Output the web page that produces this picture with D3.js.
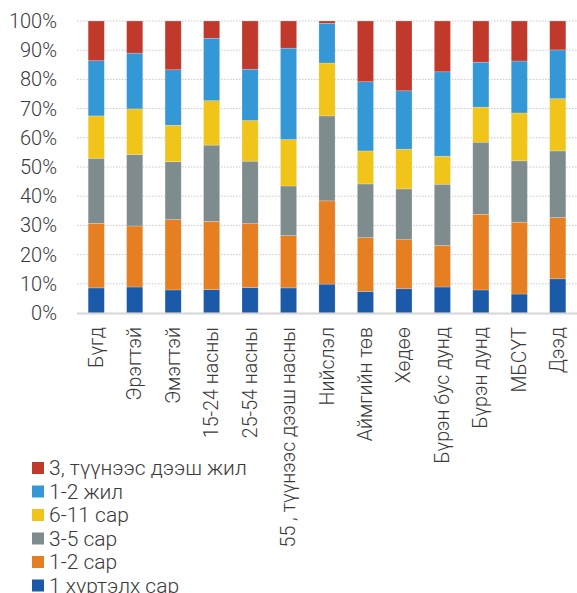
<!DOCTYPE html>
<html>
<head>
<meta charset="utf-8">
<script src="https://cdn.jsdelivr.net/npm/d3@7"></script>
<style>
  html, body { margin: 0; padding: 0; background: #fff; }
  svg text { font-family: Roboto, "Noto Sans", sans-serif; font-weight: 300; fill: #3a3a3a; }
</style>
</head>
<body>
<svg id="chart" width="577" height="593"></svg>
<script>
// Groups along the x axis
const categories = [
  "Бүгд", "Эрэгтэй", "Эмэгтэй", "15-24 насны", "25-54 насны",
  "55 , түүнээс дээш насны", "Нийслэл", "Аймгийн төв", "Хөдөө",
  "Бүрэн бус дунд", "Бүрэн дунд", "МБСҮТ", "Дээд"
];

// Series, stacked from the bottom up (percent of each group)
const seriesNames = ["1 хүртэлх сар", "1-2 сар", "3-5 сар", "6-11 сар", "1-2 жил", "3, түүнээс дээш жил"];
const seriesColors = ["#1a5aa8", "#e67e22", "#7f8c8d", "#f0c419", "#3498d6", "#c0392b"];

const upTo1Month  = [8.6, 8.9, 7.9, 8.0, 8.7, 8.6, 9.9, 7.4, 8.3, 8.9, 7.9, 6.5, 11.7];
const months1to2  = [22.1, 20.9, 24.1, 23.4, 21.9, 17.9, 28.5, 18.4, 16.8, 14.2, 25.9, 24.6, 21.0];
const months3to5  = [22.3, 24.5, 19.8, 26.1, 21.4, 17.0, 29.1, 18.4, 17.4, 21.0, 24.7, 21.0, 22.8];
const months6to11 = [14.5, 15.6, 12.5, 15.2, 13.9, 15.9, 18.1, 11.3, 13.6, 9.6, 12.0, 16.4, 17.9];
const years1to2   = [18.9, 19.1, 19.0, 21.4, 17.6, 31.3, 13.6, 23.7, 20.0, 28.9, 15.4, 17.8, 16.7];
const years3plus  = [13.6, 11.0, 16.7, 5.9, 16.5, 9.3, 0.8, 20.8, 23.9, 17.4, 14.1, 13.7, 9.9];

const yTicks = [0, 10, 20, 30, 40, 50, 60, 70, 80, 90, 100];

const seriesValues = [upTo1Month, months1to2, months3to5, months6to11, years1to2, years3plus];

// Rows for d3.stack, normalised so each column reaches 100%
const rows = categories.map((c, i) => {
  const row = { category: c };
  const total = d3.sum(seriesValues, s => s[i]);
  seriesNames.forEach((n, k) => { row[n] = seriesValues[k][i] / total * 100; });
  return row;
});

const svg = d3.select("#chart");
const margin = { top: 21, right: 0, left: 77 };
const width = 577;
const plotBottom = 313;

const x = d3.scaleBand()
  .domain(categories)
  .range([margin.left, width - margin.right])
  .paddingInner(0.58)
  .paddingOuter(0.29);

const y = d3.scaleLinear()
  .domain([0, 100])
  .range([plotBottom, margin.top]);

// Dotted horizontal gridlines
svg.append("g")
  .selectAll("line")
  .data(yTicks.filter(t => t > 0))
  .join("line")
  .attr("x1", margin.left)
  .attr("x2", width)
  .attr("y1", d => y(d))
  .attr("y2", d => y(d))
  .attr("stroke", "#c8c8c8")
  .attr("stroke-width", 1)
  .attr("stroke-dasharray", "1.5,1.5");

// Y axis labels
const yAxis = svg.append("g")
  .attr("transform", `translate(${margin.left},0)`)
  .call(d3.axisLeft(y).tickValues(yTicks).tickFormat(d => d + "%").tickSize(0).tickPadding(20));
yAxis.select(".domain").remove();
yAxis.selectAll("text").style("font-size", "20px").style("fill", "#3a3a3a");

// Stacked bars
const stack = d3.stack().keys(seriesNames);
const layers = stack(rows);

svg.append("g")
  .selectAll("g")
  .data(layers)
  .join("g")
  .attr("fill", (d, i) => seriesColors[i])
  .selectAll("rect")
  .data(d => d)
  .join("rect")
  .attr("x", d => x(d.data.category))
  .attr("width", x.bandwidth())
  .attr("y", d => y(d[1]))
  .attr("height", d => y(d[0]) - y(d[1]))
  .attr("stroke", "rgba(255,255,255,0.35)")
  .attr("stroke-width", 0.6);

// Baseline
svg.append("line")
  .attr("x1", margin.left)
  .attr("x2", width)
  .attr("y1", plotBottom + 0.5)
  .attr("y2", plotBottom + 0.5)
  .attr("stroke", "#d6d6d6")
  .attr("stroke-width", 2);

// X axis labels, rotated
const xAxis = svg.append("g")
  .attr("transform", `translate(0,${plotBottom})`)
  .call(d3.axisBottom(x).tickSize(0).tickPadding(0));
xAxis.select(".domain").remove();
xAxis.selectAll("text")
  .style("font-size", "19.6px")
  .style("fill", "#3a3a3a")
  .attr("text-anchor", "end")
  .attr("dy", null)
  .attr("dominant-baseline", "central")
  .attr("transform", "translate(0,14) rotate(-90)")
  .attr("x", 0)
  .attr("y", 0);

// Legend, top entry is the last series
const legendItems = seriesNames.map((n, i) => ({ name: n, color: seriesColors[i] })).reverse();
const legend = svg.append("g")
  .selectAll("g")
  .data(legendItems)
  .join("g")
  .attr("transform", (d, i) => `translate(32,${468 + i * 23.5})`);

legend.append("rect")
  .attr("x", 0)
  .attr("y", -6)
  .attr("width", 12)
  .attr("height", 12)
  .attr("fill", d => d.color);

legend.append("text")
  .attr("x", 17)
  .attr("y", 0)
  .attr("dominant-baseline", "central")
  .style("font-size", "21px")
  .text(d => d.name);
</script>
</body>
</html>
